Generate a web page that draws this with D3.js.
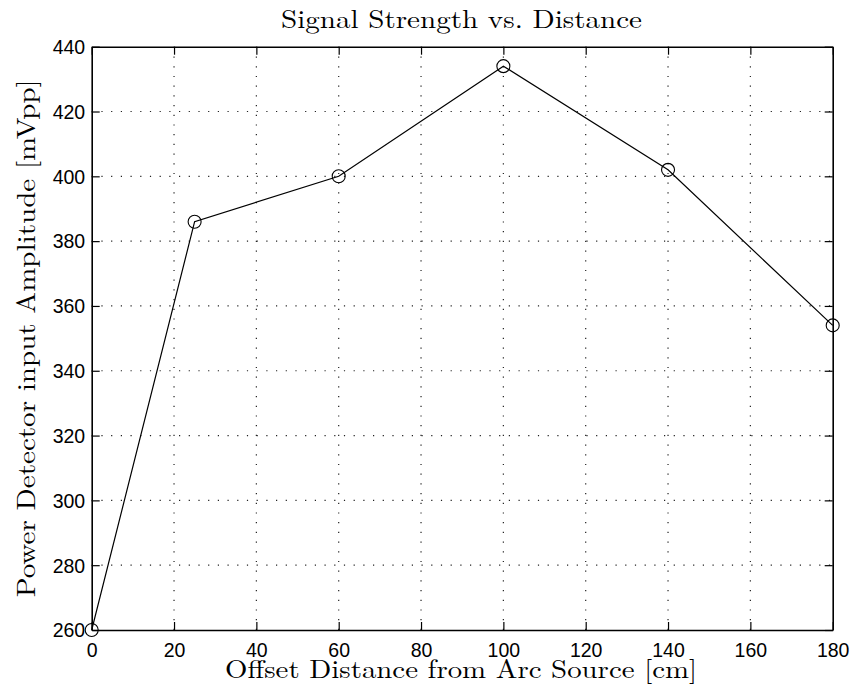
<!DOCTYPE html>
<html><head><meta charset="utf-8">
<script src="https://cdn.jsdelivr.net/npm/d3@7"></script>
<style>body{margin:0;background:#fff}</style>
</head><body>
<svg id="c" width="854" height="688"></svg>
<script>
const xs = [0, 25, 60, 100, 140, 180];
const ys = [260, 386, 400, 434, 402, 354];
const xTicks = [0, 20, 40, 60, 80, 100, 120, 140, 160, 180];
const yTicks = [260, 280, 300, 320, 340, 360, 380, 400, 420, 440];
const title = "Signal Strength vs. Distance";
const xLabel = "Offset Distance from Arc Source [cm]";
const yLabel = "Power Detector input Amplitude [mVpp]";

const svg = d3.select("#c");
const L = 91.7, R = 832.7, T = 46.7, B = 630;
const x = d3.scaleLinear().domain([0, 180]).range([L, R]);
const y = d3.scaleLinear().domain([260, 440]).range([B, T]);
svg.append("rect").attr("width",854).attr("height",688).attr("fill","#fff");

const g = svg.append("g");
// grid
g.selectAll(".gx").data(xTicks.slice(1,-1)).enter().append("line")
  .attr("x1", d=>x(d)).attr("x2", d=>x(d)).attr("y1", B).attr("y2", T)
  .attr("stroke","#222").attr("stroke-width",1.2).attr("stroke-dasharray","1.2,8.5");
g.selectAll(".gy").data(yTicks.slice(1,-1)).enter().append("line")
  .attr("y1", d=>y(d)).attr("y2", d=>y(d)).attr("x1", L).attr("x2", R)
  .attr("stroke","#222").attr("stroke-width",1.2).attr("stroke-dasharray","1.2,8.5");

const tl = 8;
// axes
const axB = svg.append("g").attr("transform",`translate(0,${B})`)
  .call(d3.axisBottom(x).tickValues(xTicks).tickSizeInner(-tl).tickSizeOuter(0).tickFormat(d3.format("d")));
const axT = svg.append("g").attr("transform",`translate(0,${T})`)
  .call(d3.axisTop(x).tickValues(xTicks).tickSizeInner(-tl).tickSizeOuter(0).tickFormat(""));
const axL = svg.append("g").attr("transform",`translate(${L},0)`)
  .call(d3.axisLeft(y).tickValues(yTicks).tickSizeInner(-tl).tickSizeOuter(0).tickFormat(d3.format("d")));
const axR = svg.append("g").attr("transform",`translate(${R},0)`)
  .call(d3.axisRight(y).tickValues(yTicks).tickSizeInner(-tl).tickSizeOuter(0).tickFormat(""));
[axB,axT,axL,axR].forEach(a=>{
  a.selectAll("path").attr("stroke","#000").attr("stroke-width",1.6);
  a.selectAll("line").attr("stroke","#000").attr("stroke-width",1.2);
  a.selectAll("text").attr("fill","#000").style("font-family","'Liberation Sans', Arial, sans-serif").style("font-size","19.5px");
});
axB.selectAll("text").attr("y",27).attr("dy",0);
axL.selectAll("text").attr("x",-6.5).attr("dy","0.35em");

// line
const line = d3.line().x((d,i)=>x(xs[i])).y(d=>y(d));
svg.append("path").datum(ys).attr("d", line).attr("fill","none").attr("stroke","#000").attr("stroke-width",1.2);
svg.selectAll(".m").data(ys).enter().append("circle")
  .attr("cx",(d,i)=>x(xs[i])).attr("cy",d=>y(d)).attr("r",6.5)
  .attr("fill","none").attr("stroke","#000").attr("stroke-width",1.1);

const serif = "'Latin Modern Roman','CMU Serif','Liberation Serif',serif";
svg.append("text").attr("x",461.5).attr("y",28).attr("text-anchor","middle")
  .attr("textLength",361).attr("lengthAdjust","spacingAndGlyphs")
  .style("font-family",serif).style("font-size","26px").text(title);
svg.append("text").attr("x",461).attr("y",678).attr("text-anchor","middle")
  .attr("textLength",472).attr("lengthAdjust","spacingAndGlyphs")
  .style("font-family",serif).style("font-size","26px").text(xLabel);
svg.append("text").attr("transform",`translate(35,${(T+B)/2}) rotate(-90)`).attr("text-anchor","middle")
  .attr("textLength",518).attr("lengthAdjust","spacingAndGlyphs")
  .style("font-family",serif).style("font-size","26px").text(yLabel);
</script>
</body></html>
